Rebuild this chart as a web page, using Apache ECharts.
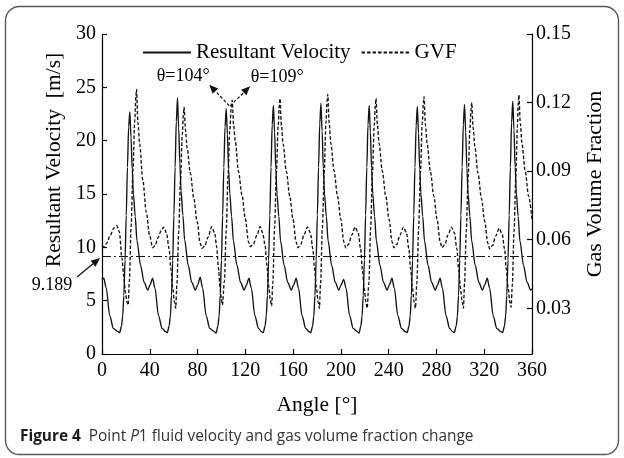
<!DOCTYPE html>
<html>
<head>
<meta charset="utf-8">
<script src="https://cdn.jsdelivr.net/npm/echarts@6/dist/echarts.min.js"></script>
<style>
  html, body { margin: 0; padding: 0; background: #fff; }
  #chart { width: 624px; height: 458px; }
</style>
</head>
<body>
<div id="chart"></div>
<script>
// Resultant velocity at point P1 over one revolution: angle [deg] -> velocity [m/s]
const velocityAngle = [
  0, 1.5, 3.5, 6.5, 9.5,
  13.3, 14.8, 16.3, 17.3, 18.3, 19.3, 20.3, 21.3, 22.3, 23.3, 24.3, 25.3, 26.3, 27.8, 29.3, 32.3, 35.3, 38.3, 40.3, 42.3, 44.3, 47.3, 50.3,
  53.2, 54.7, 56.2, 57.2, 58.2, 59.2, 60.2, 61.2, 62.2, 63.2, 64.2, 65.2, 66.2, 67.7, 69.2, 72.2, 75.2, 78.2, 80.2, 82.2, 84.2, 87.2, 90.2,
  94.0, 95.5, 97.0, 98.0, 99.0, 100.0, 101.0, 102.0, 103.0, 104.0, 105.0, 106.0, 107.0, 108.5, 110.0, 113.0, 116.0, 119.0, 121.0, 123.0, 125.0, 128.0, 131.0,
  133.5, 135.0, 136.5, 137.5, 138.5, 139.5, 140.5, 141.5, 142.5, 143.5, 144.5, 145.5, 146.5, 148.0, 149.5, 152.5, 155.5, 158.5, 160.5, 162.5, 164.5, 167.5, 170.5,
  173.3, 174.8, 176.3, 177.3, 178.3, 179.3, 180.3, 181.3, 182.3, 183.3, 184.3, 185.3, 186.3, 187.8, 189.3, 192.3, 195.3, 198.3, 200.3, 202.3, 204.3, 207.3, 210.3,
  213.7, 215.2, 216.7, 217.7, 218.7, 219.7, 220.7, 221.7, 222.7, 223.7, 224.7, 225.7, 226.7, 228.2, 229.7, 232.7, 235.7, 238.7, 240.7, 242.7, 244.7, 247.7, 250.7,
  254.0, 255.5, 257.0, 258.0, 259.0, 260.0, 261.0, 262.0, 263.0, 264.0, 265.0, 266.0, 267.0, 268.5, 270.0, 273.0, 276.0, 279.0, 281.0, 283.0, 285.0, 288.0, 291.0,
  293.5, 295.0, 296.5, 297.5, 298.5, 299.5, 300.5, 301.5, 302.5, 303.5, 304.5, 305.5, 306.5, 308.0, 309.5, 312.5, 315.5, 318.5, 320.5, 322.5, 324.5, 327.5, 330.5,
  333.9, 335.4, 336.9, 337.9, 338.9, 339.9, 340.9, 341.9, 342.9, 343.9, 344.9, 345.9, 346.9, 348.4, 349.9, 352.9, 355.9, 358.9, 360
];
const velocity = [
  6.9, 7.1, 6.2, 3.6, 2.4,
  2.1, 2.0, 2.6, 3.5, 5.5, 8.8, 13.0, 17.5, 21.3, 22.7, 20.3, 17.3, 15.0, 12.9, 10.6, 8.3, 6.7, 6.0, 6.5, 7.1, 6.2, 3.6, 2.4,
  2.1, 2.0, 2.6, 3.5, 5.5, 8.8, 13.0, 17.5, 21.8, 24.0, 21.2, 17.8, 15.3, 13.0, 10.7, 8.3, 6.7, 6.0, 6.5, 7.2, 6.2, 3.6, 2.4,
  2.1, 1.95, 2.6, 3.5, 5.5, 8.8, 13.0, 17.5, 21.3, 23.0, 20.6, 17.3, 15.0, 12.9, 10.6, 8.3, 6.7, 6.0, 6.5, 7.1, 6.2, 3.6, 2.4,
  2.1, 2.0, 2.6, 3.5, 5.5, 8.8, 13.0, 17.5, 21.5, 23.3, 20.8, 17.4, 15.0, 12.9, 10.6, 8.3, 6.7, 6.0, 6.5, 7.1, 6.2, 3.6, 2.4,
  2.1, 2.0, 2.6, 3.5, 5.5, 8.8, 13.0, 17.5, 21.6, 23.5, 20.9, 17.4, 15.0, 12.9, 10.6, 8.3, 6.7, 6.0, 6.5, 7.0, 6.2, 3.6, 2.4,
  2.1, 1.95, 2.6, 3.5, 5.5, 8.8, 13.0, 17.5, 21.5, 23.3, 20.8, 17.4, 15.0, 12.9, 10.6, 8.3, 6.7, 6.0, 6.5, 7.1, 6.2, 3.6, 2.4,
  2.1, 2.0, 2.6, 3.5, 5.5, 8.8, 13.0, 17.5, 21.4, 23.2, 20.7, 17.3, 15.0, 12.9, 10.6, 8.3, 6.7, 6.0, 6.5, 7.1, 6.2, 3.6, 2.4,
  2.1, 2.0, 2.6, 3.5, 5.5, 8.8, 13.0, 17.5, 21.5, 23.4, 20.8, 17.4, 15.0, 12.9, 10.6, 8.3, 6.7, 6.0, 6.5, 7.1, 6.2, 3.6, 2.4,
  2.1, 2.0, 2.6, 3.5, 5.5, 8.8, 13.0, 17.5, 21.7, 23.7, 21.0, 17.5, 15.1, 12.9, 10.6, 8.3, 6.7, 6.0, 6.1
];

// Gas volume fraction at point P1: angle [deg] -> GVF
const gvfAngle = [
  0, 1.5, 4, 7, 10, 12.3, 14.5, 16.7, 18.2, 19.6, 21, 21.9,
  22.9, 24.4, 25.9, 27.4, 28.4, 28.9, 30.1, 31.5, 34.2, 37.1, 39.8, 42.4, 44.5, 47, 49.5, 51.6, 54, 56.2, 57.7, 59.2, 60.7, 61.7,
  62.7, 64.2, 65.7, 67.2, 68.2, 68.7, 69.9, 71.3, 74.0, 76.9, 79.6, 82.2, 83.7, 86.2, 88.7, 91.8, 94.3, 96.0, 97.4, 98.8, 100.0, 100.8,
  102.5, 104.0, 105.5, 107.0, 108.2, 109.0, 110.2, 111.6, 114.3, 117.2, 119.9, 122.7, 124.1, 126.7, 129.7, 132.3, 134.5, 136.5, 138.0, 139.5, 141.0, 142.0,
  143.0, 144.5, 146.0, 147.5, 148.5, 149.0, 150.2, 151.6, 154.3, 157.2, 159.9, 162.5, 164.0, 166.5, 169.0, 172.0, 174.5, 176.5, 178.0, 179.5, 181.0, 182.0,
  183.0, 184.5, 186.0, 187.5, 188.5, 189.0, 190.2, 191.6, 194.3, 197.2, 199.9, 202.5, 204.0, 206.5, 209.0, 212.0, 214.5, 216.5, 218.0, 219.5, 221.0, 222.0,
  223.4, 224.9, 226.4, 227.9, 228.9, 229.4, 230.6, 232.0, 234.7, 237.6, 240.3, 242.9, 244.4, 246.9, 249.4, 252.4, 254.9, 256.9, 258.4, 259.9, 261.4, 262.4,
  263.6, 265.1, 266.6, 268.1, 269.1, 269.6, 270.8, 272.2, 274.9, 277.8, 280.5, 283.1, 284.6, 287.1, 289.6, 292.6, 295.1, 297.1, 298.6, 300.1, 301.6, 302.6,
  303.5, 305.0, 306.5, 308.0, 309.0, 309.5, 310.7, 312.1, 314.8, 317.7, 320.4, 323.0, 324.5, 327.0, 329.5, 332.5, 335.0, 337.0, 338.5, 340.0, 341.5, 342.5,
  343.5, 345.0, 346.5, 347.8, 348.5, 349.0, 350.2, 351.6, 354.3, 357.2, 360
];
const gvf = [
  0.0575, 0.0568, 0.0585, 0.062, 0.0652, 0.0662, 0.0635, 0.052, 0.044, 0.037, 0.0325, 0.0314,
  0.042, 0.066, 0.090, 0.112, 0.123, 0.1258, 0.111, 0.102, 0.086, 0.072, 0.062, 0.0565, 0.0575, 0.061, 0.064, 0.0655, 0.063, 0.056, 0.047, 0.039, 0.0325, 0.030,
  0.040, 0.063, 0.086, 0.106, 0.115, 0.118, 0.108, 0.100, 0.089, 0.078, 0.068, 0.0585, 0.0562, 0.0575, 0.061, 0.0657, 0.063, 0.057, 0.048, 0.0394, 0.034, 0.0314,
  0.042, 0.064, 0.088, 0.108, 0.118, 0.121, 0.110, 0.103, 0.0898, 0.0796, 0.0694, 0.059, 0.057, 0.058, 0.062, 0.0657, 0.063, 0.0577, 0.049, 0.040, 0.0335, 0.031,
  0.041, 0.065, 0.089, 0.110, 0.119, 0.1218, 0.110, 0.102, 0.090, 0.079, 0.069, 0.059, 0.0565, 0.058, 0.062, 0.0655, 0.063, 0.056, 0.047, 0.039, 0.0325, 0.030,
  0.041, 0.065, 0.089, 0.111, 0.121, 0.1236, 0.111, 0.102, 0.090, 0.079, 0.069, 0.059, 0.0565, 0.058, 0.062, 0.0655, 0.063, 0.056, 0.047, 0.039, 0.0325, 0.030,
  0.041, 0.065, 0.089, 0.110, 0.119, 0.1218, 0.110, 0.102, 0.090, 0.079, 0.069, 0.059, 0.0565, 0.058, 0.062, 0.0655, 0.063, 0.056, 0.047, 0.039, 0.0325, 0.030,
  0.041, 0.065, 0.089, 0.111, 0.120, 0.1226, 0.110, 0.102, 0.090, 0.079, 0.069, 0.059, 0.0565, 0.058, 0.062, 0.0655, 0.063, 0.056, 0.047, 0.039, 0.0325, 0.030,
  0.041, 0.064, 0.087, 0.108, 0.117, 0.120, 0.109, 0.101, 0.089, 0.078, 0.068, 0.0585, 0.056, 0.0575, 0.0615, 0.065, 0.0625, 0.056, 0.047, 0.039, 0.0325, 0.0305,
  0.040, 0.064, 0.088, 0.110, 0.120, 0.1233, 0.111, 0.102, 0.090, 0.079, 0.069
];

// Axis ticks
const angleRange = [0, 360];
const angleStep = 40;
const velocityRange = [0, 30];
const velocityStep = 5;
const gvfRange = [0.01, 0.15];
const gvfTicks = [0.03, 0.06, 0.09, 0.12, 0.15];

// Annotated values
const meanVelocity = 9.189;
const peakVelocityAngle = 104;
const peakGvfAngle = 109;

const SERIF = "'Liberation Serif', 'Times New Roman', serif";
const SANS = "'Open Sans', 'Noto Sans', sans-serif";

const chart = echarts.init(document.getElementById('chart'), null, { renderer: 'canvas' });

const velocityData = velocityAngle.map((a, i) => [a, velocity[i]]);
const gvfData = gvfAngle.map((a, i) => [a, gvf[i]]);

const axisText = { fontFamily: SERIF, fontSize: 20, color: '#000' };
const axisLine = { show: true, lineStyle: { color: '#000', width: 1.2 } };

chart.setOption({
  animation: false,
  backgroundColor: '#fff',
  grid: { left: 102, right: 92, top: 34, bottom: 104 },
  legend: {
    left: 137,
    top: 37,
    itemWidth: 48,
    itemHeight: 14,
    itemGap: 10,
    itemStyle: { opacity: 0 },
    textStyle: { fontFamily: SERIF, fontSize: 21, color: '#000' },
    data: ['Resultant Velocity', 'GVF']
  },
  xAxis: {
    type: 'value',
    min: angleRange[0],
    max: angleRange[1],
    interval: angleStep,
    axisLine: axisLine,
    axisTick: { show: true, inside: true, length: 5, lineStyle: { color: '#000', width: 1.2 } },
    axisLabel: Object.assign({ margin: 7 }, axisText),
    splitLine: { show: false }
  },
  yAxis: [
    {
      type: 'value',
      position: 'left',
      min: velocityRange[0],
      max: velocityRange[1],
      interval: velocityStep,
      axisLine: axisLine,
      axisTick: { show: true, inside: true, length: 5, lineStyle: { color: '#000', width: 1.2 } },
      axisLabel: Object.assign({ margin: 6 }, axisText),
      splitLine: { show: false }
    },
    {
      type: 'value',
      position: 'right',
      min: gvfRange[0],
      max: gvfRange[1],
      axisLine: axisLine,
      axisTick: { show: true, inside: true, length: 5, customValues: gvfTicks, lineStyle: { color: '#000', width: 1.2 } },
      axisLabel: Object.assign({ margin: 4, customValues: gvfTicks, formatter: v => v.toFixed(2) }, axisText),
      splitLine: { show: false }
    }
  ],
  series: [
    {
      name: 'Resultant Velocity',
      type: 'line',
      yAxisIndex: 0,
      data: velocityData,
      symbol: 'none',
      smooth: 0.3,
      smoothMonotone: 'x',
      lineStyle: { color: '#111', width: 1.35, type: 'solid' },
      itemStyle: { color: '#111' },
      markLine: {
        silent: true,
        symbol: 'none',
        label: { show: false },
        lineStyle: { color: '#111', width: 1.1, type: [9, 3, 2, 3] },
        data: [{ yAxis: meanVelocity }]
      }
    },
    {
      name: 'GVF',
      type: 'line',
      yAxisIndex: 1,
      data: gvfData,
      symbol: 'none',
      smooth: 0.3,
      smoothMonotone: 'x',
      lineStyle: { color: '#111', width: 1.35, type: [3.5, 2] },
      itemStyle: { color: '#111' }
    }
  ]
});

// Arrow made of a shaft and a filled head, pointing from (x1,y1) to (x2,y2)
function arrow(x1, y1, x2, y2, dash) {
  const ang = Math.atan2(y2 - y1, x2 - x1);
  const L = 9, W = 3.8;
  const c = Math.cos(ang), s = Math.sin(ang);
  const bx = x2 - L * c, by = y2 - L * s;
  return [
    {
      type: 'line',
      silent: true,
      shape: { x1: x1, y1: y1, x2: bx, y2: by },
      style: { stroke: '#111', lineWidth: 1.2, lineDash: dash || null }
    },
    {
      type: 'polygon',
      silent: true,
      shape: { points: [[x2, y2], [bx - W * s, by + W * c], [bx + W * s, by - W * c]] },
      style: { fill: '#111' }
    }
  ];
}

const vPeak = chart.convertToPixel({ seriesIndex: 0 },
  [peakVelocityAngle, velocity[velocityAngle.indexOf(peakVelocityAngle)]]);
const gPeak = chart.convertToPixel({ seriesIndex: 1 },
  [peakGvfAngle, gvf[gvfAngle.indexOf(peakGvfAngle)]]);
const meanPt = chart.convertToPixel({ seriesIndex: 0 }, [angleRange[0], meanVelocity]);

const graphics = [
  // frame
  {
    type: 'rect',
    silent: true,
    shape: { x: 5.5, y: 6.5, width: 613, height: 448, r: 14 },
    style: { fill: 'none', stroke: '#5a5a5a', lineWidth: 1.4 }
  },
  // axis titles
  {
    type: 'text',
    silent: true,
    x: 54, y: 160,
    rotation: Math.PI / 2,
    style: {
      text: 'Resultant Velocity  [m/s]',
      font: '21.5px ' + SERIF,
      fill: '#000',
      align: 'center',
      verticalAlign: 'middle'
    }
  },
  {
    type: 'text',
    silent: true,
    x: 595, y: 184,
    rotation: Math.PI / 2,
    style: {
      text: 'Gas Volume Fraction',
      font: '22px ' + SERIF,
      fill: '#000',
      align: 'center',
      verticalAlign: 'middle'
    }
  },
  {
    type: 'text',
    silent: true,
    x: 317, y: 405,
    style: {
      text: 'Angle [°]',
      font: '21.5px ' + SERIF,
      fill: '#000',
      align: 'center',
      verticalAlign: 'middle'
    }
  },
  // caption
  {
    type: 'text',
    silent: true,
    x: 20, y: 437,
    style: {
      text: '{b|Figure 4}  Point {i|P}1 fluid velocity and gas volume fraction change',
      font: '15.4px ' + SANS,
      fill: '#333',
      verticalAlign: 'middle',
      rich: {
        b: { fontFamily: SANS, fontSize: 15.4, fontWeight: 'bold', fill: '#1a1a1a' },
        i: { fontFamily: SANS, fontSize: 15.4, fontStyle: 'italic', fill: '#333' }
      }
    }
  },
  // peak annotations
  {
    type: 'text',
    silent: true,
    x: vPeak[0] - 43, y: vPeak[1] - 32,
    style: {
      text: 'θ=' + peakVelocityAngle + '°',
      font: '18px ' + SERIF,
      fill: '#000',
      align: 'center',
      verticalAlign: 'middle'
    }
  },
  {
    type: 'text',
    silent: true,
    x: gPeak[0] + 45, y: gPeak[1] - 23,
    style: {
      text: 'θ=' + peakGvfAngle + '°',
      font: '18px ' + SERIF,
      fill: '#000',
      align: 'center',
      verticalAlign: 'middle'
    }
  },
  // mean velocity label
  {
    type: 'text',
    silent: true,
    x: meanPt[0] - 50, y: meanPt[1] + 29,
    style: {
      text: String(meanVelocity),
      font: '18px ' + SERIF,
      fill: '#000',
      align: 'center',
      verticalAlign: 'middle'
    }
  }
]
  .concat(arrow(vPeak[0] + 3, vPeak[1] - 3, vPeak[0] - 17, vPeak[1] - 24, [3, 2]))
  .concat(arrow(vPeak[0] + 4, vPeak[1] - 3, gPeak[0] + 18, gPeak[1] - 14, [3, 2]))
  .concat(arrow(meanPt[0] - 25, meanPt[1] + 21, meanPt[0] - 2, meanPt[1] + 2, null));

chart.setOption({ graphic: graphics });
</script>
</body>
</html>
